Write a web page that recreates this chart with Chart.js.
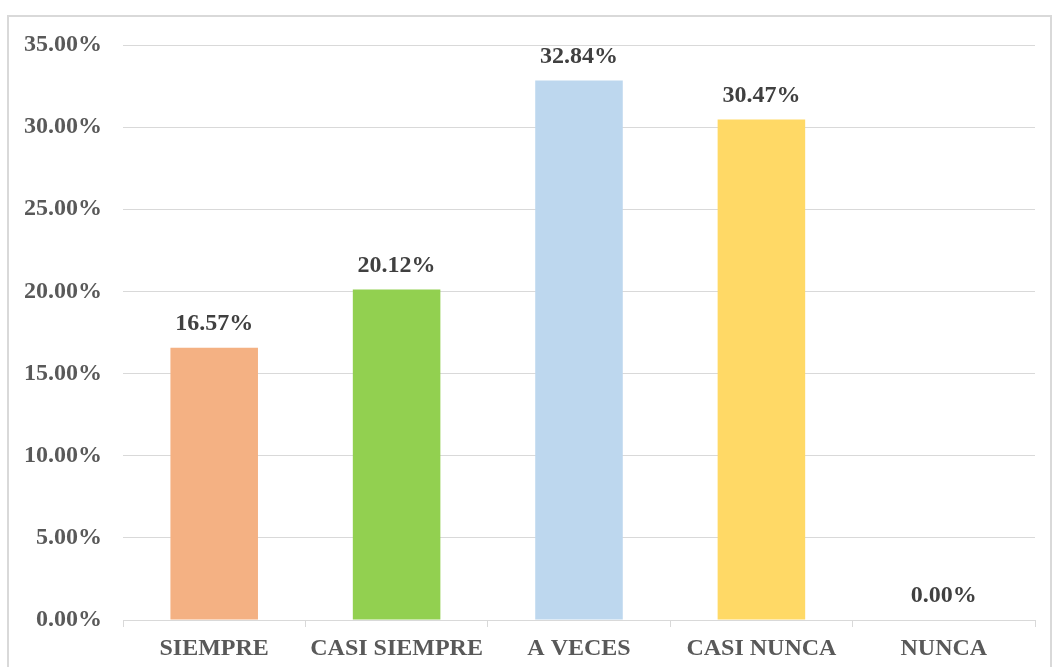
<!DOCTYPE html>
<html>
<head>
<meta charset="utf-8">
<style>
html,body{margin:0;padding:0;background:#fff;}
#wrap{width:1054px;height:667px;position:relative;}
</style>
<script src="https://cdn.jsdelivr.net/npm/chart.js@4/dist/chart.umd.min.js"></script>
</head>
<body>
<div id="wrap"><canvas id="c" width="1054" height="667"></canvas></div>
<script>
const categories = ['SIEMPRE', 'CASI SIEMPRE', 'A VECES', 'CASI NUNCA', 'NUNCA'];
const values = [16.57, 20.12, 32.84, 30.47, 0.00];
const barColors = ['#F4B183', '#92D050', '#BDD7EE', '#FFD966', '#A9D18E'];
const yTicks = [0, 5, 10, 15, 20, 25, 30, 35];

const FONT = '"Liberation Serif", "Times New Roman", serif';

const frame = {
  id: 'frame',
  beforeDraw(chart) {
    const ctx = chart.ctx;
    ctx.save();
    ctx.fillStyle = '#fff';
    ctx.fillRect(0, 0, chart.width, chart.height);
    ctx.strokeStyle = '#d9d9d9';
    ctx.lineWidth = 2;
    ctx.strokeRect(8, 16, 1043, 700);
    ctx.restore();
  }
};

const dataLabels = {
  id: 'dataLabels',
  afterDatasetsDraw(chart) {
    const ctx = chart.ctx;
    const meta = chart.getDatasetMeta(0);
    ctx.save();
    ctx.font = 'bold 24px ' + FONT;
    ctx.fillStyle = '#404040';
    ctx.textAlign = 'center';
    ctx.textBaseline = 'middle';
    meta.data.forEach((bar, i) => {
      ctx.fillText(values[i].toFixed(2) + '%', bar.x, bar.y - 24);
    });
    ctx.restore();
  }
};

new Chart(document.getElementById('c'), {
  type: 'bar',
  data: {
    labels: categories,
    datasets: [{
      data: values,
      backgroundColor: barColors,
      borderWidth: 0,
      categoryPercentage: 1,
      barPercentage: 0.48
    }]
  },
  options: {
    responsive: false,
    animation: false,
    devicePixelRatio: 1,
    layout: { padding: { top: 45, right: 19, bottom: 0, left: 0 } },
    plugins: { legend: { display: false }, tooltip: { enabled: false } },
    scales: {
      x: {
        afterFit(s) { s.height = 47; },
        grid: { display: true, drawOnChartArea: false, offset: true, tickLength: 7, color: '#d9d9d9', lineWidth: 1 },
        border: { display: true, color: '#d9d9d9', width: 1 },
        ticks: { color: '#595959', font: { family: FONT, size: 24, weight: 'bold' }, padding: 7, maxRotation: 0, autoSkip: false }
      },
      y: {
        min: 0, max: 35,
        afterFit(s) { s.width = 123; },
        afterBuildTicks(s) { s.ticks = yTicks.map(v => ({ value: v })); },
        grid: { drawTicks: false, color: '#d9d9d9', lineWidth: 1 },
        border: { display: false },
        ticks: {
          color: '#595959',
          font: { family: FONT, size: 24, weight: 'bold' },
          padding: 21,
          callback: v => v.toFixed(2) + '%'
        }
      }
    }
  },
  plugins: [frame, dataLabels]
});
</script>
</body>
</html>
